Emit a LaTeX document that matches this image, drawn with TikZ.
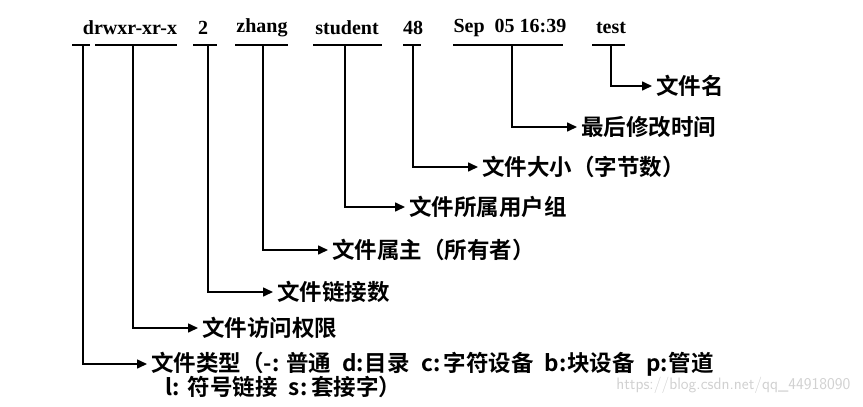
\documentclass[tikz,border=0pt]{standalone}
\usepackage{fontspec}
\setmainfont{Liberation Serif}
\newfontfamily\cjk{Noto Sans CJK SC}[BoldFont={Noto Sans CJK SC Bold}]
\usepackage{tikz}
\usetikzlibrary{arrows.meta}

\newcommand{\hw}[1]{\makebox[1em][l]{#1}}
\newcommand{\gap}{\hspace{0.5em}}

\tikzset{
  field/.style={font=\fontsize{20}{23}\selectfont\bfseries, inner sep=0pt},
  meaning/.style={font=\cjk\fontsize{22.5}{26}\selectfont\bfseries, anchor=west, inner sep=4pt},
  bar/.style={line width=1.6pt},
  link/.style={line width=1.6pt, -{Triangle[length=10pt,width=9pt]}}
}

\begin{document}
\begin{tikzpicture}[x=1pt,y=-1pt]
\useasboundingbox (0,0) rectangle (863,407);

\node[field] (perm) at (130,28) {drwxr-xr-x};
\node[field] (nlink) at (203,28) {2};
\node[field] (user) at (262,28) {zhang};
\node[field] (grp) at (347,28) {student};
\node[field] (bytes) at (413,28) {48};
\node[field] (date) at (510,28) {Sep\ \ 05 16:39};
\node[field] (fname) at (611,28) {test};

\draw[bar] (72,45) -- (90,45);
\draw[bar] (95,45) -- (177,45);
\draw[bar] (193,45) -- (217,45);
\draw[bar] (235,45) -- (288,45);
\draw[bar] (313,45) -- (382,45);
\draw[bar] (403,45) -- (421,45);
\draw[bar] (453,45) -- (563,45);
\draw[bar] (592,45) -- (625,45);

\coordinate (tType) at (83,45);
\coordinate (tPerm) at (133,45);
\coordinate (tLink) at (208,45);
\coordinate (tUser) at (263,45);
\coordinate (tGrp) at (345,45);
\coordinate (tSize) at (413,45);
\coordinate (tTime) at (512,45);
\coordinate (tName) at (611,45);

\node[meaning] (lName) at (652,86) {文件名};
\node[meaning] (lTime) at (577,127) {最后修改时间};
\node[meaning] (lSize) at (478,167) {文件大小（字节数）};
\node[meaning] (lGrp) at (405,207) {文件所属用户组};
\node[meaning] (lUser) at (328,250) {文件属主（所有者）};
\node[meaning] (lLink) at (273,292) {文件链接数};
\node[meaning] (lPerm) at (198,328) {文件访问权限};
\node[meaning] (lType) at (147,364) {文件类型（\hw{-:}普通\gap\hw{d:}目录\gap\hw{c:}字符设备\gap\hw{b:}块设备\gap\hw{p:}管道};
\node[meaning] (lType2) at (161,387) {\hw{l:}符号链接\gap\hw{s:}套接字）};

\draw[link] (tName) |- (lName);
\draw[link] (tTime) |- (lTime);
\draw[link] (tSize) |- (lSize);
\draw[link] (tGrp) |- (lGrp);
\draw[link] (tUser) |- (lUser);
\draw[link] (tLink) |- (lLink);
\draw[link] (tPerm) |- (lPerm);
\draw[link] (tType) |- (lType);

\node[font=\fontfamily{lmss}\fontsize{16.5}{18}\selectfont, text=black!18, anchor=east] (mark) at (854,385) {https://blog.csdn.net/qq\_44918090};
\end{tikzpicture}
\end{document}
